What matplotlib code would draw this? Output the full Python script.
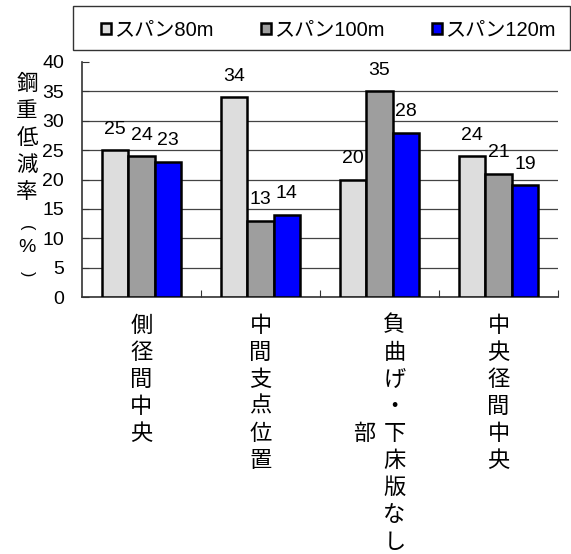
import numpy as np
import matplotlib
matplotlib.use('Agg')
import matplotlib.pyplot as plt

plt.rcParams['font.family'] = ['Liberation Sans', 'Noto Sans CJK JP', 'DejaVu Sans']

# %%
# データ
categories = ['側径間中央', '中間支点位置', '負曲げ・下床版なし部', '中央径間中央']
series_names = ['スパン80m', 'スパン100m', 'スパン120m']
span80 = [25, 34, 20, 24]
span100 = [24, 13, 35, 21]
span120 = [23, 14, 28, 19]
y_label = '鋼重低減率(%)'
y_ticks = [0, 5, 10, 15, 20, 25, 30, 35, 40]

colors = ['#dddddd', '#9e9e9e', '#0000ff']

# %%
fig = plt.figure(figsize=(5.71, 5.54), dpi=100)
ax = fig.add_axes([82 / 571, 1 - 297 / 554, 476 / 571, 235 / 554])

x = np.arange(len(categories))
w = 0.222
bars = []
for j, vals in enumerate([span80, span100, span120]):
    b = ax.bar(x + (j - 1) * w, vals, w, color=colors[j], edgecolor='black',
               linewidth=1.8, label=series_names[j], zorder=3)
    bars.append(b)
    for xi, v in zip(x + (j - 1) * w, vals):
        ax.annotate(str(v), (xi, v), xytext=(0, 9), textcoords='offset points',
                    ha='center', va='bottom', fontsize=14)

ax.set_xlim(-0.5, 3.5)
ax.set_ylim(0, 40)
ax.set_yticks(y_ticks)
ax.set_xticks([0.5, 1.5, 2.5, 3.5])
ax.set_xticklabels([])
ax.tick_params(axis='y', direction='in', length=5, labelsize=14, pad=13, color='#333333')
ax.tick_params(axis='x', direction='in', length=5, color='#333333')
ax.spines['top'].set_visible(False)
ax.spines['right'].set_visible(False)
for s in ['left', 'bottom']:
    ax.spines[s].set_color('#333333')
    ax.spines[s].set_linewidth(1.2)
ax.grid(axis='y', color='#444444', linewidth=0.9, zorder=0)
ax.get_ygridlines()[-1].set_visible(False)

# 項目名（縦書き）
pitch = 27.1
for i, cat in enumerate(categories):
    if i == 2:
        cols = [(cat[:9], 15, 0), (cat[9:], -15, 4)]
    else:
        cols = [(cat, 0, 0)]
    for txt, dx, row0 in cols:
        for k, ch in enumerate(txt):
            ax.annotate(ch, (i, 0), xycoords='data',
                        xytext=(dx, -(28 + (row0 + k) * pitch)), textcoords='offset pixels',
                        ha='center', va='center', fontsize=16,
                        family=['Noto Sans CJK JP', 'DejaVu Sans'])

# 縦軸ラベル（括弧は縦書き用に回転）
for k, ch in enumerate(y_label):
    yy = 554 - (84 + k * 27)
    if ch in '()':
        fig.text(27, yy + (-9 if ch == '(' else -1), ch, transform=None, ha='center', va='center',
                 fontsize=11.5, rotation=-90, family=['Liberation Sans'])
    elif ch == '%':
        fig.text(27, yy - 2, ch, transform=None, ha='center', va='center',
                 fontsize=14, family=['Liberation Sans'])
    else:
        fig.text(27, yy, ch, transform=None, ha='center', va='center',
                 fontsize=15.5, family=['Noto Sans CJK JP', 'DejaVu Sans'])

leg = fig.legend(handles=bars, labels=series_names, ncol=3,
                 loc='center', bbox_to_anchor=(80 / 571, 1 - 52 / 554, 497 / 571, 44 / 554),
                 borderaxespad=0, fontsize=14.5, frameon=False,
                 handlelength=0.5, handleheight=0.5, handletextpad=0.2, columnspacing=2.3)
# 凡例の枠
fig.patches.append(plt.Rectangle((73 / 571, 1 - 50 / 554), 497 / 571, 44 / 554,
                                 transform=fig.transFigure, fill=False,
                                 edgecolor='#333333', linewidth=1.0))

fig.savefig('out.png', dpi=100)
